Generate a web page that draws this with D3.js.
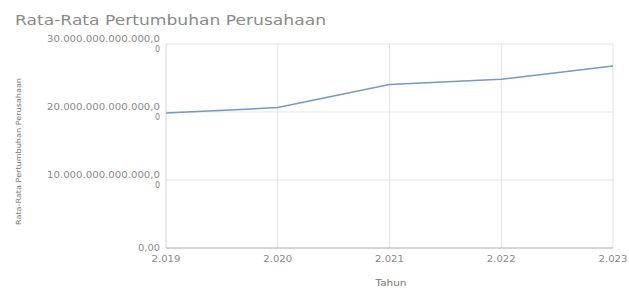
<!DOCTYPE html>
<html>
<head>
<meta charset="utf-8">
<script src="https://cdn.jsdelivr.net/npm/d3@7.9.0/dist/d3.min.js"></script>
<style>
  body { margin: 0; background: #fff; }
  svg { font-family: "DejaVu Sans", sans-serif; }
</style>
</head>
<body>
<svg width="629" height="289"></svg>
<script>
const years = [2019, 2020, 2021, 2022, 2023];
const growth = [19.85e12, 20.65e12, 24.05e12, 24.8e12, 26.75e12];
const yTicks = [0, 10e12, 20e12, 30e12];

const svg = d3.select('svg');
const margin = { left: 166, right: 16, top: 44, bottom: 41 };
const width = 629 - margin.left - margin.right;
const height = 289 - margin.top - margin.bottom;

const x = d3.scaleLinear().domain([2019, 2023]).range([margin.left, margin.left + width]);
const y = d3.scaleLinear().domain([0, 30e12]).range([margin.top + height, margin.top]);

// dots as thousands separator
const fmtId = (v) => Math.round(v).toString().replace(/\B(?=(\d{3})+(?!\d))/g, '.');

// the original screenshot is stretched sideways, so text gets a wider box
const stretch = (sel, w) => sel.attr('textLength', w).attr('lengthAdjust', 'spacingAndGlyphs');

// grid
svg.append('g').selectAll('line')
  .data(yTicks.slice(1))
  .join('line')
  .attr('x1', margin.left).attr('x2', margin.left + width)
  .attr('y1', (d) => y(d)).attr('y2', (d) => y(d))
  .attr('stroke', '#e3e3e3');

svg.append('g').selectAll('line')
  .data(years)
  .join('line')
  .attr('x1', (d) => x(d)).attr('x2', (d) => x(d))
  .attr('y1', margin.top).attr('y2', margin.top + height)
  .attr('stroke', (d, i) => (i === 0 ? '#d4d4d4' : '#e3e3e3'));

// baseline
svg.append('line')
  .attr('x1', margin.left).attr('x2', margin.left + width)
  .attr('y1', y(0)).attr('y2', y(0))
  .attr('stroke', '#aaa').attr('stroke-width', 1.2);

// y tick labels, wrapped like the original
const yl = svg.append('g').attr('font-size', 8).attr('fill', '#8a8a8a').attr('text-anchor', 'end');
yTicks.forEach((t) => {
  if (t === 0) {
    stretch(yl.append('text').attr('x', 160).attr('y', y(t) + 2.5).text('0,00'), 22);
  } else {
    stretch(yl.append('text').attr('x', 160).attr('y', y(t) - 2).text(fmtId(t) + ',0'), 113);
    yl.append('text').attr('x', 160).attr('y', y(t) + 7.5).text('0');
  }
});

// x tick labels
svg.append('g').selectAll('text')
  .data(years)
  .join('text')
  .attr('x', (d) => x(d))
  .attr('y', y(0) + 14)
  .attr('text-anchor', 'middle')
  .attr('font-size', 8)
  .attr('fill', '#8a8a8a')
  .text((d) => fmtId(d))
  .call(stretch, 29);

// line
svg.append('path')
  .datum(years.map((yr, i) => [yr, growth[i]]))
  .attr('fill', 'none')
  .attr('stroke', '#7399c6')
  .attr('stroke-width', 1.5)
  .attr('d', d3.line().x((d) => x(d[0])).y((d) => y(d[1])));

// titles
svg.append('text')
  .attr('x', 15).attr('y', 25)
  .attr('font-size', 13.5)
  .attr('fill', '#8a8a8a')
  .text('Rata-Rata Pertumbuhan Perusahaan')
  .call(stretch, 311);

svg.append('text')
  .attr('transform', 'translate(21,151.5) rotate(-90)')
  .attr('text-anchor', 'middle')
  .attr('font-size', 7.2)
  .attr('fill', '#777')
  .text('Rata-Rata Pertumbuhan Perusahaan')
  .call(stretch, 147);

svg.append('text')
  .attr('x', 391).attr('y', 286)
  .attr('text-anchor', 'middle')
  .attr('font-size', 8.5)
  .attr('fill', '#777')
  .text('Tahun')
  .call(stretch, 31);
</script>
</body>
</html>
